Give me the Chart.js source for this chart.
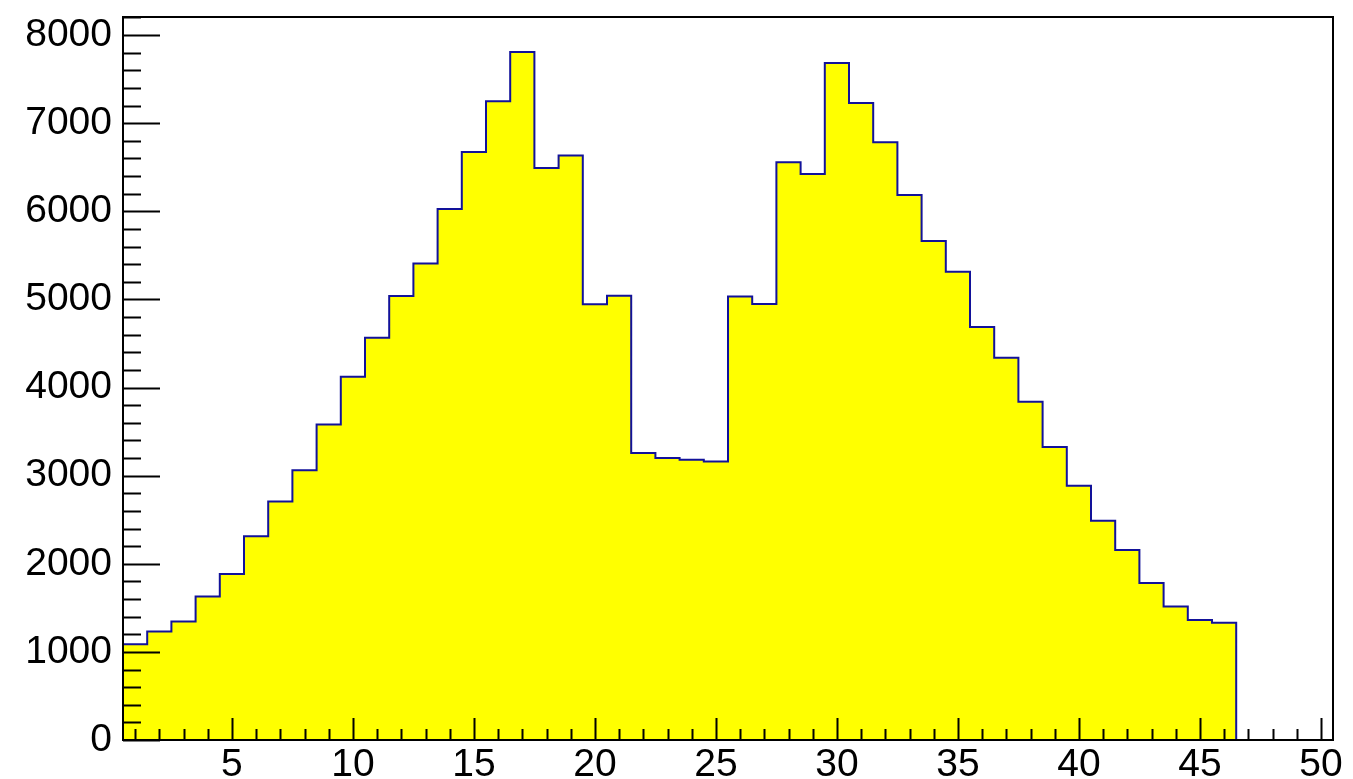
<!DOCTYPE html>
<html>
<head>
<meta charset="utf-8">
<script src="https://cdn.jsdelivr.net/npm/chart.js@4/dist/chart.umd.min.js"></script>
<style>
  html, body { margin: 0; padding: 0; background: #ffffff; }
  #wrap { width: 1353px; height: 779px; position: relative; }
</style>
</head>
<body>
<div id="wrap"><canvas id="c" width="1353" height="779"></canvas></div>
<script>
// Bin centres (categories) of the histogram, 50 bins of width 1 from 0.5 to 50.5
const binCenters = [1,2,3,4,5,6,7,8,9,10,11,12,13,14,15,16,17,18,19,20,21,22,23,24,25,
                    26,27,28,29,30,31,32,33,34,35,36,37,38,39,40,41,42,43,44,45,46,47,48,49,50];
// Bin contents
const counts = [1087,1230,1344,1628,1885,2313,2707,3062,3581,4122,
                4565,5038,5409,6026,6674,7249,7809,6492,6632,4944,
                5042,3256,3199,3180,3161,5034,4948,6558,6424,7684,
                7230,6783,6185,5663,5315,4687,4338,3838,3324,2884,
                2488,2155,1783,1514,1363,1332,0,0,0,0];
const xTickLabels = [5,10,15,20,25,30,35,40,45,50];
const yTickLabels = [0,1000,2000,3000,4000,5000,6000,7000,8000];
const binWidth = 1;
const xMin = 0.5, xMax = 50.5, yMin = 0, yMax = 8205;

// Step outline points at bin edges
const pts = [{x: binCenters[0] - binWidth/2, y: 0}];
binCenters.forEach((c, i) => pts.push({x: c - binWidth/2, y: counts[i]}));
pts.push({x: binCenters[binCenters.length-1] + binWidth/2, y: counts[counts.length-1]});

const FONT = "'Liberation Sans', Arial, Helvetica, sans-serif";

const rootTicks = {
  id: 'rootTicks',
  afterDatasetsDraw(chart) {
    const {ctx, chartArea: a, scales: {x, y}} = chart;
    ctx.save();
    ctx.strokeStyle = '#000000';
    ctx.lineWidth = 2;
    ctx.beginPath();
    for (let v = 0; v <= yMax + 1e-6; v += 200) {
      const py = Math.round(y.getPixelForValue(v)) + 0.5;
      const len = (v % 1000 === 0) ? 37 : 18;
      ctx.moveTo(a.left, py);
      ctx.lineTo(a.left + len, py);
    }
    for (let v = 1; v <= 50; v += 1) {
      const px = Math.round(x.getPixelForValue(v)) + 0.5;
      const len = (v % 5 === 0) ? 22 : 11;
      ctx.moveTo(px, a.bottom);
      ctx.lineTo(px, a.bottom - len);
    }
    ctx.stroke();
    ctx.beginPath();
    ctx.rect(a.left, a.top, a.right - a.left, a.bottom - a.top);
    ctx.stroke();
    ctx.restore();
  }
};

new Chart(document.getElementById('c'), {
  type: 'line',
  data: {
    datasets: [{
      data: pts,
      stepped: 'before',
      fill: 'origin',
      backgroundColor: '#ffff00',
      borderColor: '#12129a',
      borderWidth: 2,
      pointRadius: 0,
      tension: 0
    }]
  },
  options: {
    responsive: false,
    animation: false,
    events: [],
    layout: { padding: { top: 17, right: 20, left: 0, bottom: 0 } },
    plugins: { legend: { display: false }, tooltip: { enabled: false } },
    scales: {
      x: {
        type: 'linear',
        min: xMin, max: xMax,
        afterBuildTicks: s => { s.ticks = xTickLabels.map(v => ({value: v})); },
        afterFit: s => { s.height = 39; s.paddingLeft = 0; s.paddingRight = 0; },
        grid: { display: false, drawTicks: false },
        border: { display: false },
        ticks: { color: '#000', font: { family: FONT, size: 39 }, padding: 2, maxRotation: 0, autoSkip: false }
      },
      y: {
        type: 'linear',
        min: yMin, max: yMax,
        afterBuildTicks: s => { s.ticks = yTickLabels.map(v => ({value: v})); },
        afterFit: s => { s.width = 123; s.paddingTop = 0; s.paddingBottom = 0; },
        grid: { display: false, drawTicks: false },
        border: { display: false },
        ticks: { color: '#000', font: { family: FONT, size: 39 }, padding: 11, autoSkip: false,
                 callback: v => String(v) }
      }
    }
  },
  plugins: [rootTicks]
});
</script>
</body>
</html>
